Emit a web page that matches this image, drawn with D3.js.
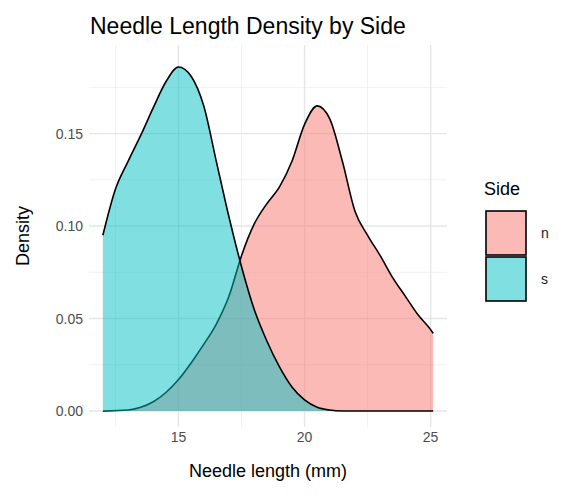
<!DOCTYPE html>
<html><head><meta charset="utf-8">
<script src="https://cdn.jsdelivr.net/npm/d3@7"></script>
<style>body{margin:0;background:#fff}text{font-family:"Liberation Sans",Arial,sans-serif}</style>
</head><body><div class="chart"></div>
<script>
var xsN = [12,13,13.5,14,14.5,15,15.5,16,16.5,17,17.5,18,18.5,19,19.5,20,20.5,21,21.5,22,22.5,23,23.5,24,24.5,25,25.1];
var densN = [0,0.0005,0.002,0.005,0.01,0.017,0.026,0.036,0.047,0.062,0.084,0.101,0.112,0.121,0.135,0.155,0.165,0.158,0.135,0.108,0.095,0.084,0.072,0.062,0.052,0.044,0.042];
var xsS = [12,12.5,13,13.5,14,14.5,15,15.5,16,16.5,17,17.5,18,18.5,19,19.5,20,20.5,21,21.5,25.1];
var densS = [0.095,0.12,0.135,0.149,0.164,0.178,0.186,0.181,0.165,0.135,0.105,0.078,0.055,0.038,0.024,0.013,0.006,0.002,0.0005,0,0];
var sides = ["n","s"];
var colors = ["#F8766D","#00BFC4"];
var xTicks = [15,20,25], yTicks = [0,0.05,0.1,0.15];

var svg = d3.select(".chart").append("svg").attr("width",576).attr("height",499);
var pLeft = 89, pRight = 447, pTop = 45, pBottom = 427;
var x = d3.scaleLinear().domain([11.45,25.65]).range([pLeft,pRight]);
var y = d3.scaleLinear().domain([0,0.186]).range([411,67]);

var g = svg.append("g");
[12.5,17.5,22.5].forEach(function(v){
  g.append("line").attr("x1",x(v)).attr("x2",x(v)).attr("y1",pTop).attr("y2",pBottom).attr("stroke","#ebebeb").attr("stroke-width",0.7);
});
[0.025,0.075,0.125,0.175].forEach(function(v){
  g.append("line").attr("y1",y(v)).attr("y2",y(v)).attr("x1",pLeft).attr("x2",pRight).attr("stroke","#ebebeb").attr("stroke-width",0.7);
});
xTicks.forEach(function(v){
  g.append("line").attr("x1",x(v)).attr("x2",x(v)).attr("y1",pTop).attr("y2",pBottom).attr("stroke","#e6e6e6").attr("stroke-width",1.4);
  svg.append("text").attr("x",x(v)).attr("y",pBottom+15).attr("text-anchor","middle").attr("font-size",14).attr("fill","#4d4d4d").text(v);
});
yTicks.forEach(function(v){
  g.append("line").attr("y1",y(v)).attr("y2",y(v)).attr("x1",pLeft).attr("x2",pRight).attr("stroke","#e6e6e6").attr("stroke-width",1.4);
  svg.append("text").attr("x",pLeft-6).attr("y",y(v)+5).attr("text-anchor","end").attr("font-size",14).attr("fill","#4d4d4d").text(v.toFixed(2));
});

var series = [{xs:xsN, ds:densN},{xs:xsS, ds:densS}];
series.forEach(function(s,i){
  var pts = s.xs.map(function(v,j){return [v,s.ds[j]];});
  var area = d3.area().x(function(d){return x(d[0]);}).y0(y(0)).y1(function(d){return y(d[1]);}).curve(d3.curveMonotoneX);
  svg.append("path").attr("d",area(pts)).attr("fill",colors[i]).attr("fill-opacity",0.5);
  var line = d3.line().x(function(d){return x(d[0]);}).y(function(d){return y(d[1]);}).curve(d3.curveMonotoneX);
  svg.append("path").attr("d",line(pts)).attr("fill","none").attr("stroke","#000").attr("stroke-width",1.6);
});

svg.append("text").attr("x",90).attr("y",34).attr("font-size",23).attr("fill","#000").text("Needle Length Density by Side");
svg.append("text").attr("x",(pLeft+pRight)/2).attr("y",477).attr("text-anchor","middle").attr("font-size",18).text("Needle length (mm)");
svg.append("text").attr("transform","translate(29,"+((pTop+pBottom)/2)+") rotate(-90)").attr("text-anchor","middle").attr("font-size",18).text("Density");

svg.append("text").attr("x",484).attr("y",195).attr("font-size",18).text("Side");
sides.forEach(function(s,i){
  svg.append("rect").attr("x",486).attr("y",211+i*46).attr("width",40).attr("height",44).attr("fill",colors[i]).attr("fill-opacity",0.5).attr("stroke","#000").attr("stroke-width",1.6);
  svg.append("text").attr("x",541).attr("y",238+i*46).attr("font-size",14).attr("fill","#1a1a1a").text(s);
});
</script></body></html>
